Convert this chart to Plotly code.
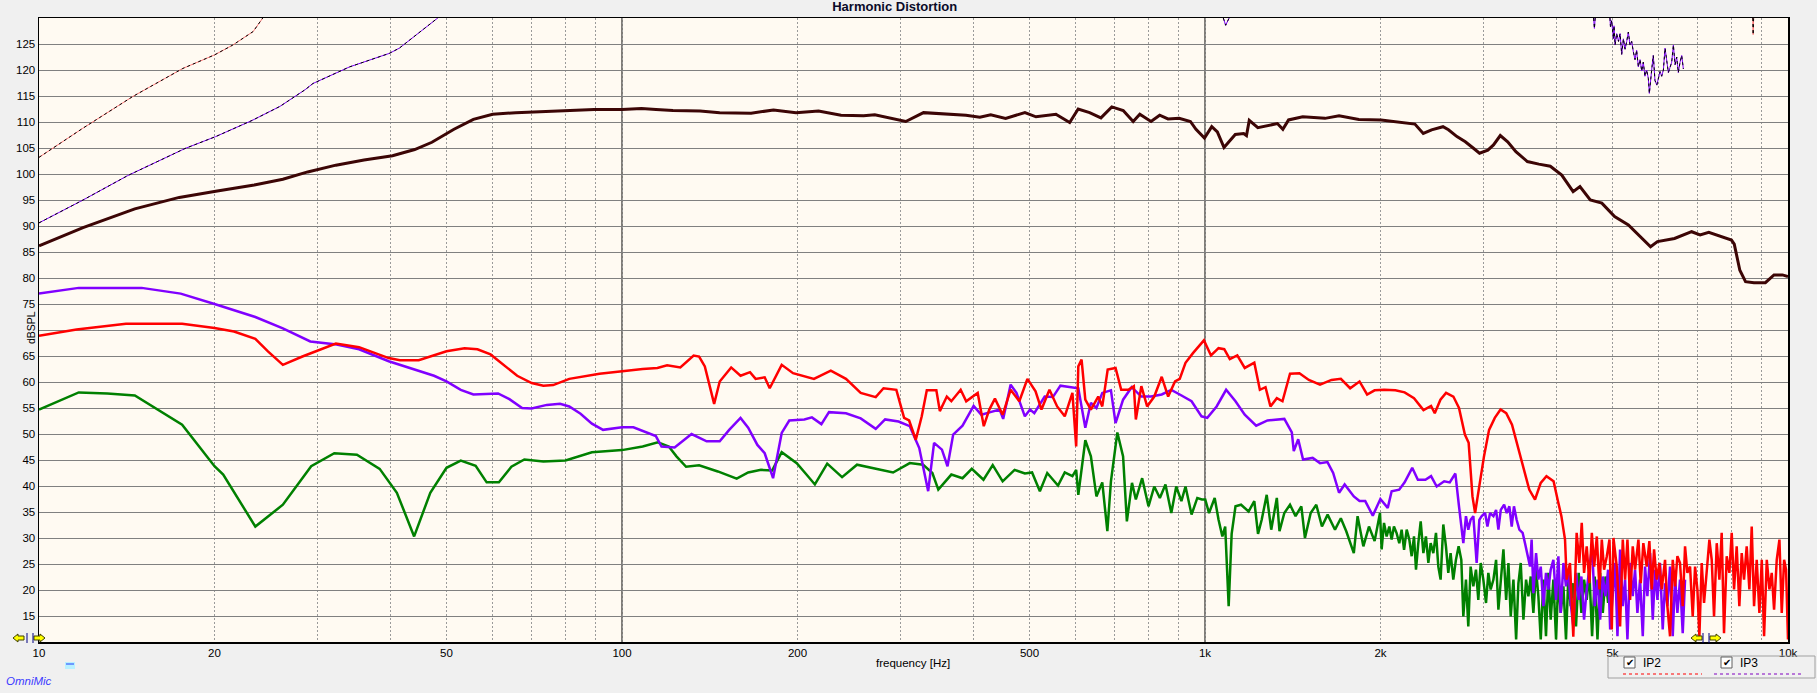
import plotly.graph_objects as go

# ---------------- data (frequency in Hz, level in dBSPL) ----------------
fund_freq = [10, 11.9, 14.6, 17.4, 20.1, 23.4, 26.2, 28.9, 32.3, 36.1, 40.4, 44.1, 47.2, 51.5, 55.6, 60.0,
             65.7, 70.2, 80.2, 89.6, 100, 108, 114.4, 122.3, 136.1, 147.1, 166.5, 181.9, 198.8, 217.3, 237.5,
             259.6, 271.4, 290.1, 306.7, 329, 356, 389, 411, 429, 455, 491, 513, 555, 586, 606, 634, 663, 692,
             724, 753, 773, 808, 836, 864, 903, 944, 965, 998, 1027, 1050, 1078, 1127, 1165, 1178, 1191, 1232,
             1288, 1331, 1360, 1391, 1471, 1606, 1698, 1836, 2005, 2191, 2291, 2368, 2447, 2560, 2616, 2705,
             2796, 2891, 2957, 3056, 3125, 3210, 3305, 3414, 3572, 3738, 3911, 4092, 4280, 4397, 4580, 4794,
             5042, 5324, 5570, 5811, 5971, 6388, 6835, 7068, 7313, 7648, 7999, 8088, 8268, 8456, 8742, 9145,
             9462, 9782, 10000]
fund_db = [86.2, 89.7, 93.3, 95.5, 96.7, 97.9, 99.0, 100.4, 101.7, 102.7, 103.5, 104.7, 106.1, 108.6, 110.5,
           111.5, 111.8, 111.9, 112.2, 112.4, 112.4, 112.6, 112.4, 112.2, 112.1, 111.8, 111.7, 112.3, 111.8,
           112.1, 111.3, 111.2, 111.4, 110.7, 110.1, 111.8, 111.5, 111.3, 110.9, 111.4, 110.7, 111.8, 111.0,
           111.5, 109.9, 112.5, 111.8, 110.8, 112.9, 112.2, 110.1, 111.5, 110.1, 111.3, 110.6, 110.7, 110.1,
           108.6, 106.9, 109.1, 108.1, 105.1, 107.6, 107.8, 107.4, 110.3, 108.9, 109.4, 109.7, 108.6, 110.4,
           111.0, 110.7, 111.2, 110.5, 110.4, 109.9, 109.6, 107.8, 108.5, 109.1, 108.5, 107.2, 106.2, 104.9,
           104.0, 104.6, 105.6, 107.4, 106.2, 104.3, 102.4, 101.9, 101.5, 99.8, 96.6, 97.6, 95.0, 94.4, 91.8,
           90.2, 88.0, 86.0, 87.0, 87.6, 88.9, 88.3, 88.8, 88.0, 87.3, 86.5, 81.5, 79.3, 79.1, 79.1, 80.6,
           80.6, 80.3]

# 2nd harmonic (red)
h2_freq = [10, 11.6, 14.1, 17.6, 20, 21.6, 23.5, 24.7, 26.2, 28.3, 32.3, 35.4, 39.8, 41.6, 44.8, 50, 53.7,
           56.5, 59.5, 66.1, 70, 73.3, 76.2, 81.2, 91.5,
           100, 108.5, 115, 119.5, 125.9, 132.7, 135.6, 138.7, 143.9, 147.1, 153.9, 159.7, 165.8, 169.5, 175.7,
           179.2, 187.9, 196.5, 213.4, 228.1, 242.2, 256.7, 272.4, 280.9, 295.5, 304.7, 310.8, 319.1, 326.7,
           333.3, 346.1, 350.9, 360.7, 367.2, 381, 389.4, 407.5, 417.4, 426.6, 436.2, 449.7, 464.1, 480.3,
           495.9, 512.1, 524.2, 541, 557.7, 574.7, 592.4, 601.2, 606.3, 614.2, 623.3, 637.2, 656, 666.5,
           680.9, 702.4, 718.3, 738.7, 755, 761, 777.7, 795.7, 818.4, 842.9, 864.6, 888.3, 905, 925.9,
           954.3, 995.7,
           1024, 1055, 1079, 1103, 1136, 1170, 1215, 1242, 1270, 1295, 1328, 1358, 1399, 1452, 1507, 1575,
           1648, 1710, 1774, 1841, 1897, 1954, 2029, 2121, 2200, 2283, 2370, 2442, 2478, 2534, 2591, 2667,
           2727, 2791, 2833, 2876, 2906, 2951, 3010, 3071, 3141, 3213, 3286, 3362, 3439, 3518, 3599, 3682,
           3766, 3852, 3962, 4025, 4086]
h2_db = [68.9, 70.1, 71.2, 71.2, 70.4, 69.7, 68.3, 65.9, 63.3, 64.9, 67.4, 66.7, 64.6, 64.2, 64.2, 65.9, 66.5,
         66.3, 65.3, 61.2, 59.8, 59.3, 59.4, 60.6, 61.6,
         62.1, 62.5, 62.7, 63.2, 62.8, 65.1, 64.9, 63.0, 55.8, 60.1, 62.8, 61.2, 61.9, 60.6, 60.9,
         58.8, 63.3, 61.7, 60.6, 62.2, 60.6, 57.9, 57.1, 58.8, 58.5, 53.1, 52.6, 48.9, 53.4,
         58.4, 58.4, 54.4, 57.2, 56.3, 58.5, 56.3, 57.9, 51.5, 54.7, 56.8, 53.7, 58.5, 56.3,
         60.6, 58.2, 54.7, 58.5, 55.3, 53.4, 57.9, 47.6, 63.0, 64.3, 56.6, 54.7, 57.2, 55.3,
         62.4, 62.7, 58.5, 58.5, 59.2, 52.8, 59.2, 55.3, 57.2, 61.0, 57.2, 60.1, 60.6, 63.7,
         65.6, 68.0,
         65.1, 66.5, 66.3, 64.4, 65.1, 62.7, 63.7, 58.5, 59.0, 55.3, 56.9, 56.3, 61.6, 61.7, 60.4, 59.5,
         60.4, 60.6, 58.8, 60.1, 57.6, 58.4, 58.5, 58.4, 58.0, 56.9, 54.6, 55.4, 54.0, 56.6, 57.9, 57.2,
         55.0, 49.9, 48.3, 38.0, 34.8, 39.6, 45.7, 50.8, 53.1, 54.7, 54.0, 51.8, 47.6, 43.8, 39.3, 37.4,
         40.6, 41.9, 40.9, 37.4, 34.2]
h2_hf_freq = [4145, 4172, 4227, 4283, 4340, 4386, 4428, 4469, 4516, 4564, 4608, 4651, 4700, 4749, 4793, 4837,
              4889, 4941, 4986, 5019, 5085, 5152, 5207, 5255, 5304, 5360, 5416, 5466, 5539, 5590, 5648, 5724,
              5784, 5838, 5892, 5954, 6018, 6073, 6153, 6210, 6276, 6343, 6402, 6461, 6528, 6598, 6659, 6721,
              6792, 6864, 6928, 6992, 7047, 7112, 7178, 7254, 7331, 7399, 7467, 7547, 7626, 7696, 7767, 7850,
              7933, 8007, 8081, 8166, 8252, 8329, 8406, 8495, 8585, 8665, 8745, 8838, 8932, 9016, 9099, 9196,
              9292, 9378, 9465, 9565, 9667, 9756, 9847, 9924, 10000]
h2_hf_db = [29.7, 22.0, 25.2, 11.0, 31.0, 25.2, 32.9, 23.3, 28.4, 21.3, 31.0, 24.5, 30.3, 20.1, 29.7, 23.9,
            26.5, 29.7, 12.4, 30.0, 24.5, 13.0, 29.7, 22.0, 29.7, 18.1, 28.4, 23.9, 29.7, 21.3, 29.0, 24.5,
            29.4, 20.1, 27.8, 22.0, 25.2, 20.1, 25.8, 16.9, 11.1, 25.8, 20.7, 26.5, 25.2, 16.9, 28.4, 23.3,
            24.5, 14.9, 24.5, 20.1, 11.1, 25.2, 17.5, 24.5, 29.7, 25.8, 14.9, 29.0, 22.0, 31.0, 11.7, 26.5,
            23.3, 31.0, 20.1, 28.4, 16.9, 27.1, 22.0, 28.4, 20.1, 32.2, 16.9, 25.8, 15.6, 25.8, 11.1, 25.8,
            20.1, 23.3, 16.2, 25.8, 29.7, 15.6, 25.8, 23.9, 10.5]

# 3rd harmonic (purple)
h3_freq = [10, 11.7, 15.0, 17.5, 20, 23.5, 26.2, 29.2, 32.4, 35.4, 39.8, 44.1, 47.6, 50, 52.9, 55.6, 61.3, 64.1,
           67.4, 70, 74.3, 78.3, 81.2, 84.9, 88.8, 92.8,
           100, 104.6, 110.1, 114.3, 116.9, 123.1, 131.6, 139.7, 147.1, 152.7, 159.7, 164.6, 170.7, 175.7, 181.6,
           187.9, 193.6, 205.5, 211.7, 219.8, 226.5, 242.2, 256.7, 272.4, 282.7, 298.1, 311.6, 323.5, 335.1,
           343, 353.8, 361.7, 369.9, 383.8, 401, 413.4, 428.5, 444.4, 450.6, 464.1, 474.9, 490.9, 501.1,
           509.6, 530.9, 548.4, 565, 592.4, 606.3, 623.3, 637.2, 651.3, 666.5, 689.7, 702.4, 723.6, 748.5,
           777.7, 808.3, 842.9, 875.4, 905, 948.3, 986.4,
           1009, 1047, 1087, 1128, 1170, 1224, 1280, 1368, 1409, 1420, 1445, 1473, 1530, 1575, 1622, 1659,
           1698, 1736, 1800, 1841, 1883, 1940, 1999, 2058, 2090, 2153, 2200, 2267, 2318, 2388, 2442, 2497,
           2572, 2629, 2688, 2727]
h3_db = [77.0, 78.1, 78.1, 77.0, 75.0, 72.5, 70.3, 67.8, 67.2, 66.3, 64.0, 62.4, 61.2, 60.1, 58.5, 57.6, 57.8,
         56.7, 55.0, 54.9, 55.6, 55.8, 55.3, 53.9, 52.0, 50.8,
         51.3, 51.3, 50.3, 49.6, 47.6, 47.4, 50.0, 48.6, 48.6, 50.8, 53.1, 51.2, 47.9, 46.3, 41.5,
         50.2, 52.6, 52.8, 53.2, 51.9, 54.2, 54.0, 53.0, 51.0, 52.8, 52.4, 51.5, 47.3, 39.0,
         48.3, 47.0, 43.8, 49.9, 51.6, 55.4, 53.7, 54.2, 54.7, 52.9, 59.5, 57.9, 53.4, 54.7,
         54.0, 57.2, 57.1, 59.3, 59.0, 58.8, 51.2, 56.0, 55.0, 57.9, 58.4, 52.1, 56.6, 59.0,
         57.2, 57.2, 57.6, 58.5, 57.6, 56.3, 53.4,
         53.1, 55.3, 58.5, 56.3, 53.7, 51.6, 52.6, 52.9, 50.3, 46.7, 49.0, 45.1, 45.4, 44.4, 44.6, 42.5,
         38.7, 40.3, 38.0, 37.1, 37.1, 34.3, 37.5, 35.8, 39.0, 39.3, 40.7, 43.5, 41.2, 41.2, 41.9, 39.9,
         40.9, 40.7, 42.4, 36.1]
h3_hf_freq = [2737, 2774, 2803, 2829, 2855, 2886, 2924, 2955, 2983, 3023, 3051, 3083, 3124, 3157, 3186, 3216,
              3259, 3293, 3327, 3358, 3388, 3424, 3461, 3506, 3539, 3572, 3610, 3633, 3658, 3697, 3731, 3766,
              3806, 3845, 3881, 3917, 3959, 4001, 4038, 4075, 4119, 4161, 4200, 4238, 4283, 4329, 4375, 4422,
              4469, 4516, 4564, 4613, 4661, 4712, 4762, 4812, 4864, 4914, 4954, 5006, 5052, 5099, 5152, 5207,
              5255, 5304, 5360, 5416, 5466, 5517, 5575, 5635, 5686, 5739, 5800, 5862, 5916, 5971, 6033, 6097,
              6153, 6210, 6276, 6343, 6402, 6461, 6528, 6598, 6659]
h3_hf_db = [34.8, 29.0, 34.2, 31.6, 33.5, 34.2, 25.2, 33.5, 34.2, 34.8, 32.2, 34.8, 34.2, 35.4, 31.6, 35.4,
            36.4, 34.8, 36.1, 32.2, 36.1, 33.5, 31.6, 31.0, 29.0, 27.1, 24.5, 29.7, 19.4, 27.1, 22.0, 24.5,
            16.9, 23.3, 20.1, 23.9, 25.8, 18.1, 26.5, 15.6, 25.2, 20.7, 23.9, 17.5, 13.0, 23.3, 18.1, 22.6,
            14.3, 20.1, 23.9, 28.4, 16.9, 22.0, 14.3, 22.6, 18.8, 23.9, 12.4, 20.1, 25.2, 11.1, 27.8, 16.9,
            22.0, 10.5, 25.2, 18.8, 23.9, 15.6, 22.0, 11.1, 24.5, 18.8, 27.1, 14.3, 23.9, 18.1, 25.2, 12.4,
            21.3, 16.9, 24.5, 11.1, 22.6, 15.6, 22.0, 11.7, 22.0]

# higher harmonic (green)
h4_freq = [10, 11.7, 13.1, 14.6, 17.6, 20, 20.7, 23.5, 26.2, 29.3, 32.1, 35.1, 38.4, 41.1, 44.0, 46.9, 50, 52.9,
           56.1, 58.6, 61.5, 64.6, 68.0, 73.3, 80.0, 88.8,
           100, 108.5, 115.2, 120.3, 124, 128.8, 135.6, 146, 157.3, 164.6, 173.2, 181, 187.9, 199.4, 207.2,
           214.2, 224.9, 238.5, 253, 268.7, 291.7, 311.6, 328.4, 340.7, 348.8, 367.2, 383.8, 398.1, 416.9,
           432.4, 449.7, 471.4, 490.9, 505.1, 520.9, 536.3, 559.6, 574.7, 592.4, 601.2, 606.3, 623.3, 637.2,
           651.3, 666.5, 680, 689.7, 707.4, 723.6, 734.5, 749.5, 761, 780.2, 800, 818.4, 836.7, 855.5, 875.4,
           892.6, 911, 925.9, 948.3, 970, 988,
           1001, 1016, 1039, 1055, 1071, 1083, 1098, 1111, 1128, 1153, 1188, 1215, 1233, 1251, 1276, 1299,
           1328, 1342, 1368, 1399, 1430, 1463, 1484, 1518, 1552, 1587, 1623, 1671, 1710, 1747, 1800, 1827,
           1869, 1911, 1954]
h4_db = [54.7, 58.0, 57.8, 57.4, 51.8, 43.8, 42.2, 32.2, 36.4, 43.8, 46.3, 46.0, 43.3, 38.7, 30.3, 38.7, 43.5,
         44.9, 43.9, 40.7, 40.7, 43.7, 45.1, 44.7, 44.9, 46.5,
         46.9, 47.6, 48.4, 47.6, 45.7, 43.7, 44.0, 42.8, 41.4, 42.6, 43.1, 43.0, 46.5, 44.4, 42.2,
         40.3, 44.3, 41.7, 44.1, 43.5, 42.6, 44.4, 44.1, 42.5, 39.3, 42.2, 41.5, 43.3, 41.2,
         44.0, 40.9, 43.1, 42.4, 42.6, 39.0, 42.5, 40.1, 42.6, 41.9, 43.1, 38.3, 48.8, 45.7,
         38.0, 40.7, 31.3, 40.9, 50.3, 45.7, 33.2, 40.6, 37.4, 41.5, 36.1, 39.9, 37.7, 40.3, 34.8,
         39.9, 37.1, 39.9, 34.5, 37.7, 37.4,
         37.4, 34.8, 37.7, 33.5, 30.3, 32.2, 16.9, 30.8, 36.1, 36.4, 35.1, 37.1, 30.8, 33.5, 38.3, 31.6,
         37.7, 31.3, 34.8, 36.4, 34.2, 36.1, 30.0, 34.8, 36.4, 32.2, 34.5, 31.6, 33.8, 31.3, 27.1, 34.2,
         28.4, 32.2, 29.4]
h4_hf_freq = [1996, 2009, 2028, 2049, 2071, 2090, 2109, 2132, 2154, 2174, 2195, 2218, 2241, 2262, 2283, 2301,
              2322, 2344, 2369, 2393, 2416, 2438, 2464, 2490, 2513, 2536, 2563, 2590, 2614, 2638, 2666, 2694,
              2723, 2752, 2774, 2803, 2829, 2855, 2886, 2916, 2943, 2971, 3002, 3034, 3062, 3090, 3124, 3157,
              3186, 3216, 3250, 3285, 3315, 3345, 3381, 3417, 3448, 3480, 3517, 3554, 3587, 3620, 3658, 3697,
              3731, 3766, 3806, 3845, 3881, 3917, 3959, 4001, 4038, 4075, 4119, 4161, 4200, 4238, 4283, 4329,
              4375, 4422, 4469, 4516, 4564, 4613, 4661, 4712, 4762, 4812, 4864, 4914, 4966, 5006]
h4_hf_db = [34.8, 27.8, 32.9, 30.3, 32.2, 29.7, 32.2, 30.9, 29.0, 31.6, 27.7, 31.6, 29.7, 26.5, 30.3, 23.9,
            29.0, 33.2, 27.1, 30.3, 25.2, 29.0, 27.1, 31.0, 24.5, 22.0, 32.6, 28.4, 23.3, 27.1, 22.0, 25.8,
            28.4, 25.8, 14.9, 22.0, 13.0, 24.5, 20.7, 23.9, 18.1, 25.2, 22.0, 17.5, 23.3, 20.1, 22.0, 25.8,
            16.2, 22.0, 27.8, 18.1, 25.2, 14.9, 22.0, 10.5, 21.3, 25.2, 14.3, 22.0, 18.8, 22.6, 15.6, 23.9,
            18.8, 10.5, 22.0, 11.1, 23.3, 14.3, 22.0, 10.5, 22.6, 15.6, 20.7, 10.5, 22.6, 16.9, 21.3, 13.0,
            23.3, 15.6, 22.0, 18.1, 23.3, 11.1, 22.6, 10.5, 23.3, 15.6, 22.6, 17.5, 23.3, 18.8]

# IP2 / IP3 curves (dashed), None = gap where curve leaves the plot
ip2_freq = [10, 11.89, 14.48, 17.65, 20, 21.5, 23.3, 24.2, None, 8700, 8714, 8730]
ip2_db = [103.2, 108.8, 114.9, 120.3, 122.9, 124.8, 127.4, 130, None, 130, 126.8, 130]
ip3_freq = [10, 11.9, 14.2, 17.8, 20.1, 23.2, 25.9, 28.6, 29.5, 34.1, 39.9, 41.5, 48.3, None,
            1075, 1085, 1100, None, 4640, 4655, 4670, None,
            4950, 4960, 4984, 5017, 5030, 5051, 5083, 5120, 5152, 5185, 5220, 5254, 5289, 5323, 5358, 5393,
            5429, 5465, 5500, 5537, 5574, 5612, 5647, 5684, 5722, 5760, 5783, 5813, 5843, 5874, 5913, 5956,
            5993, 6032, 6072, 6113, 6153, 6194, 6235, 6276, 6317, 6359, 6402, 6443, 6485, 6528, 6572, 6615]
ip3_db = [90.6, 95.0, 99.7, 104.9, 107.2, 110.3, 113.0, 116.2, 117.4, 120.6, 123.2, 124.2, 130, None,
          130, 128.6, 130, None, 130, 128.0, 130, None,
          130, 128.3, 129.5, 126.0, 128.5, 124.8, 127.0, 125.5, 127.0, 123.0, 126.0, 124.0, 125.5, 127.3,
          124.8, 125.5, 123.5, 122.0, 123.8, 120.6, 122.0, 119.8, 121.5, 118.8, 120.0, 118.4, 115.5, 117.5,
          120.5, 122.8, 118.0, 117.1, 118.5, 119.7, 118.8, 120.0, 124.2, 122.0, 119.5, 120.5, 121.5, 124.8,
          121.0, 122.5, 119.5, 121.5, 122.8, 120.2]

x_grid = [10, 20, 30, 40, 50, 60, 70, 80, 90, 100, 200, 300, 400, 500, 600, 700, 800, 900,
          1000, 2000, 3000, 4000, 5000, 6000, 7000, 8000, 9000, 10000]
x_labels = {10: '10', 20: '20', 50: '50', 100: '100', 200: '200', 500: '500',
            1000: '1k', 2000: '2k', 5000: '5k', 10000: '10k'}
x_major = [100, 1000]
y_ticks = list(range(15, 130, 5))
y_hidden = [70]

# ---------------- styling ----------------
W, H = 1817, 693
L, T, R, B = 39, 18, 1788, 642
FONT = 'Liberation Sans, Arial, sans-serif'


def px(x):
    return (x - L) / (R - L)


def py(y):
    return (B - y) / (B - T)


fig = go.Figure()


def add(freq, db, color, width, dash=None):
    fig.add_trace(go.Scatter(x=freq, y=db, mode='lines', connectgaps=False,
                             line=dict(color=color, width=width, dash=dash),
                             showlegend=False, hoverinfo='skip'))


add(ip2_freq, ip2_db, '#ff7878', 1)
add(ip2_freq, ip2_db, '#000000', 1, '3px,3px')
add(ip3_freq, ip3_db, '#8000ff', 1)
add(ip3_freq, ip3_db, '#000000', 1, '3px,3px')
add(fund_freq, fund_db, '#3c0505', 3)
add(h4_freq + h4_hf_freq, h4_db + h4_hf_db, '#008000', 2.5)
add(h3_freq + h3_hf_freq, h3_db + h3_hf_db, '#8000ff', 2.5)
add(h2_freq + h2_hf_freq, h2_db + h2_hf_db, '#ff0000', 2.5)

shapes = []
for xv in x_major:
    shapes.append(dict(type='line', xref='x', yref='paper', x0=xv, x1=xv, y0=0, y1=1,
                       line=dict(color='#000000', width=1), layer='below'))

# legend box
shapes.append(dict(type='rect', xref='paper', yref='paper', x0=px(1608), x1=px(1815), y0=py(678), y1=py(656),
                   line=dict(color='#a0a0a0', width=1)))
annotations = []
for cb_x, txt_x, l0, l1, col, name in [(1624, 1641, 1623, 1702, '#ff0000', 'IP2'),
                                       (1721, 1738, 1714, 1802, '#8000c0', 'IP3')]:
    shapes.append(dict(type='rect', xref='paper', yref='paper', x0=px(cb_x), x1=px(cb_x + 11),
                       y0=py(668), y1=py(657), fillcolor='#ffffff', line=dict(color='#606060', width=1)))
    shapes.append(dict(type='line', xref='paper', yref='paper', x0=px(l0), x1=px(l1), y0=py(674), y1=py(674),
                       line=dict(color=col, width=1, dash='3px,3px')))
    annotations.append(dict(xref='paper', yref='paper', x=px(cb_x + 5.5), y=py(662.5), text='✔',
                            showarrow=False, font=dict(size=10, color='#000000', family='DejaVu Sans'),
                            xanchor='center', yanchor='middle'))
    annotations.append(dict(xref='paper', yref='paper', x=px(txt_x), y=py(662.5), text=name,
                            showarrow=False, font=dict(size=12, color='#000000', family=FONT),
                            xanchor='left', yanchor='middle'))

# small cyan marker near OmniMic
shapes.append(dict(type='rect', xref='paper', yref='paper', x0=px(65), x1=px(75), y0=py(669), y1=py(662),
                   fillcolor='#b8f0ff', line=dict(width=0)))
shapes.append(dict(type='line', xref='paper', yref='paper', x0=px(66), x1=px(74), y0=py(664), y1=py(664),
                   line=dict(color='#2040ff', width=1)))


# yellow cursor arrows
def arrow(x_tip, direction):
    d = direction
    pts = [(x_tip, 638), (x_tip + 5 * d, 634), (x_tip + 5 * d, 636), (x_tip + 11 * d, 636),
           (x_tip + 11 * d, 640), (x_tip + 5 * d, 640), (x_tip + 5 * d, 642)]
    path = 'M ' + ' L '.join('%f,%f' % (px(a), py(b)) for a, b in pts) + ' Z'
    return dict(type='path', xref='paper', yref='paper', path=path, fillcolor='#ffff00',
                line=dict(color='#404000', width=1))


for tip, d in [(13, 1), (45, -1), (1691, 1), (1721, -1)]:
    shapes.append(arrow(tip, d))
for bx in [27, 33, 1703, 1709]:
    shapes.append(dict(type='line', xref='paper', yref='paper', x0=px(bx), x1=px(bx), y0=py(643), y1=py(633),
                       line=dict(color='#000080', width=1)))

annotations += [
    dict(xref='paper', yref='paper', x=px(913), y=py(663), text='frequency [Hz]', showarrow=False,
         font=dict(size=11.5, color='#000000', family=FONT), xanchor='center', yanchor='middle'),
    dict(xref='paper', yref='paper', x=px(31), y=py(328), text='dBSPL', showarrow=False, textangle=-90,
         font=dict(size=10.5, color='#000000', family=FONT), xanchor='center', yanchor='middle'),
    dict(xref='paper', yref='paper', x=px(29), y=py(681.5), text='<i>OmniMic</i>', showarrow=False,
         font=dict(size=11.5, color='#3c3cff', family=FONT), xanchor='center', yanchor='middle'),
]

fig.update_layout(
    width=W, height=H,
    margin=dict(l=L, r=W - R, t=T, b=H - B, pad=0),
    paper_bgcolor='#f0f0f0', plot_bgcolor='#fffaf2',
    title=dict(text='<b>Harmonic Distortion</b>', x=894.7 / W, y=1 - 6 / H, xanchor='center', yanchor='middle',
               xref='container', yref='container', font=dict(size=13, color='#0a0a28', family=FONT)),
    shapes=shapes, annotations=annotations,
    xaxis=dict(type='log', range=[1, 4], tickvals=x_grid,
               ticktext=[x_labels.get(v, '') for v in x_grid],
               showgrid=True, gridcolor='#9a9a9a', gridwidth=1, griddash='2px,2px',
               showline=True, linecolor='#000000', linewidth=1.5, mirror=True, zeroline=False,
               ticks='', tickfont=dict(size=11.5, color='#000000', family=FONT)),
    yaxis=dict(range=[10, 130], tickvals=y_ticks,
               ticktext=['' if v in y_hidden else str(v) for v in y_ticks],
               showgrid=True, gridcolor='#808080', gridwidth=1,
               showline=True, linecolor='#000000', linewidth=1.5, mirror=True, zeroline=False,
               ticks='', tickfont=dict(size=11.5, color='#000000', family=FONT)),
    showlegend=False,
)

fig.write_html('out.html',
               config={'displayModeBar': False, 'staticPlot': True},
               post_script="document.body.style.margin='0';document.body.style.padding='0';"
                           "document.body.style.overflow='hidden';")
